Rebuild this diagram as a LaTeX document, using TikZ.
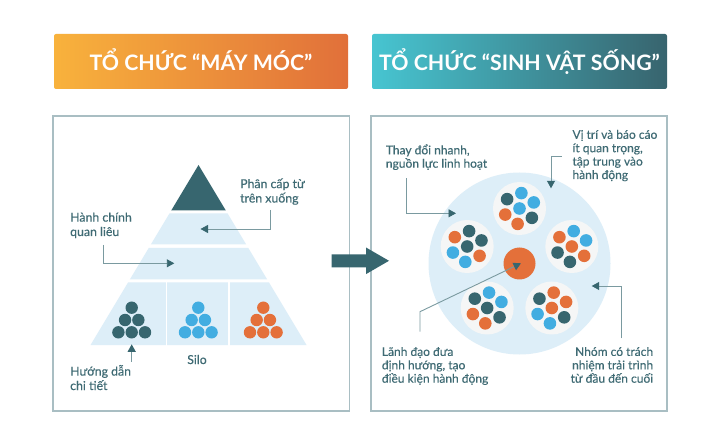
\documentclass[tikz,border=0pt]{standalone}
\usepackage{fontspec}
\setmainfont{Lato}
\usetikzlibrary{arrows.meta,calc}
\definecolor{tealdk}{HTML}{37666F}
\definecolor{dotblue}{HTML}{42ADE1}
\definecolor{dotorange}{HTML}{E4703A}
\definecolor{tierblue}{HTML}{DDEEF8}
\definecolor{clusterbg}{HTML}{F5F6F6}
\definecolor{panelline}{HTML}{A9BEC3}
\definecolor{txt}{HTML}{3F6B74}
\definecolor{connc}{HTML}{7A9AA0}
\definecolor{hdrLa}{HTML}{F8B23C}
\definecolor{hdrLb}{HTML}{E1703A}
\definecolor{hdrRa}{HTML}{47C5D1}
\definecolor{hdrRb}{HTML}{38646E}
\begin{document}
\begin{tikzpicture}[x=1pt,y=-1pt,
  lbl/.style={font=\fontsize{12}{13.4}\selectfont\addfontfeature{FakeBold=0.3}, text=txt, inner sep=0pt, align=left},
  lblL/.style={lbl, font=\fontsize{12.3}{14.4}\selectfont\addfontfeature{FakeBold=0.3}},
  lblr/.style={lbl, align=right},
  connector/.style={draw=connc, line width=0.9pt, -{Triangle[length=7.5pt,width=8pt,color=tealdk,fill=tealdk]}},
  hdrtext/.style={font=\fontsize{21.3}{24}\selectfont\bfseries, text=white, inner sep=0pt, anchor=base},
  panel/.style={draw=panelline, line width=1.2pt},
  tier/.style={fill=tierblue}
]
\useasboundingbox (0,0) rectangle (720,438);
\fill[white] (0,0) rectangle (720,438);

% headers
\shade[left color=hdrLa, right color=hdrLb, rounded corners=2pt] (54,34) rectangle (348,89);
\node[hdrtext] (hL) at (201,71) {TỔ CHỨC “MÁY MÓC”};
\shade[left color=hdrRa, right color=hdrRb, rounded corners=2pt] (372,34) rectangle (667,89);
\node[hdrtext] (hR) at (519.5,71) {TỔ CHỨC “SINH VẬT SỐNG”};

% panels
\draw[panel] (53,116) rectangle (349.3,411);
\draw[panel] (371,116) rectangle (667,411);

% pyramid
\fill[tealdk] (198.5,165) -- (225.8,210.5) -- (171.2,210.5) -- cycle;
\fill[tier] (169.4,213.5) -- (227.6,213.5) -- (246.2,244.5) -- (150.8,244.5) -- cycle;
\fill[tier] (148.7,248) -- (248.3,248) -- (267.2,279.5) -- (129.8,279.5) -- cycle;
\fill[tier] (128,282.5) -- (269,282.5) -- (306.5,345) -- (90.5,345) -- cycle;
\draw[white, line width=1.8pt] (166.5,282) -- (166.5,346);
\draw[white, line width=1.8pt] (229.2,282) -- (229.2,346);

% dot triangles
\foreach \cx/\col in {131.7/tealdk, 198.3/dotblue, 263.3/dotorange} {
  \foreach \dx/\dy in {0/307.7, -6.65/320, 6.65/320, -13.3/332.3, 0/332.3, 13.3/332.3}
    \fill[\col] (\cx+\dx,\dy) circle[radius=6.2];
}

% middle block arrow
\fill[tealdk] (331.7,254.3) -- (366,254.3) -- (366,247.5) -- (389,260.8) -- (366,274.1) -- (366,267.3) -- (331.7,267.3) -- cycle;

% right panel circles
\fill[tierblue] (519.5,263.5) circle[radius=91];
\foreach \ang/\cen/\ca/\cb/\cc/\cd/\ce/\cf in {
   90/dotblue/dotblue/dotblue/tealdk/dotorange/dotorange/tealdk,
   162/tealdk/tealdk/tealdk/dotorange/dotblue/dotblue/dotorange,
   18/dotorange/dotblue/dotblue/dotorange/tealdk/tealdk/dotorange,
   234/tealdk/dotblue/dotblue/tealdk/dotorange/dotorange/tealdk,
   306/dotorange/dotorange/dotorange/tealdk/dotblue/dotblue/tealdk} {
  \coordinate (cl) at ({519.5+55*cos(\ang)},{263.5-55*sin(\ang)});
  \fill[clusterbg] (cl) circle[radius=26.5];
  \fill[\cen] (cl) circle[radius=6.3];
  \foreach \d/\col in {23/\ca,83/\cb,143/\cc,203/\cd,263/\ce,323/\cf}
    \fill[\col] ($(cl)+({15.5*cos(\d)},{-15.5*sin(\d)})$) circle[radius=6.3];
}
\fill[dotorange] (519.5,263.5) circle[radius=16];

% left labels (base = baseline of last line)
\node[lblL, anchor=base west] (phan) at (240,202.5) {Phân cấp từ\\trên xuống};
\coordinate (phanS) at (270.5,210);
\coordinate (phanT) at (200.5,229);
\draw[connector] (phanS) |- (phanT);

\node[lblL, anchor=base west] (hanh) at (70,236) {Hành chính\\quan liêu};
\coordinate (hanhS) at (103.3,245);
\coordinate (hanhT) at (174.3,263.3);
\draw[connector] (hanhS) |- (hanhT);

\node[lblL, anchor=base west] (huong) at (70,390) {Hướng dẫn\\chi tiết};
\coordinate (huongS) at (131.7,361.7);
\coordinate (huongT) at (131.7,344.3);
\draw[connector] (huongS) -- (huongT);

\node[lblL, anchor=base] (silo) at (197,364) {Silo};

% right labels
\node[lbl, anchor=base west] (thay) at (385.7,167.7) {Thay đổi nhanh,\\nguồn lực linh hoạt};
\coordinate (thayS) at (406.7,178.3);
\coordinate (thayT) at (456,213.3);
\draw[connector] (thayS) |- (thayT);

\node[lbl, anchor=base west] (vitri) at (572.3,179) {Vị trí và báo cáo\\ít quan trọng,\\tập trung vào\\hành động};
\coordinate (vitriS) at (561.7,156.7);
\coordinate (vitriT) at (551,188.3);
\draw[connector] (vitriS) -| (vitriT);

\node[lbl, anchor=base west] (lanh) at (381.7,382.7) {Lãnh đạo đưa\\định hướng, tạo\\điều kiện hành động};
\coordinate (lanhS) at (420,331.7);
\coordinate (lanhM) at (420,311.7);
\coordinate (lanhT) at (521,263.3);
\draw[connector] (lanhS) -- (lanhM) -- (lanhT);

\node[lblr, anchor=base east] (nhom) at (653.3,382.7) {Nhóm có trách\\nhiệm trải trình\\từ đầu đến cuối};
\coordinate (nhomS) at (621,338.3);
\coordinate (nhomT) at (591.7,286);
\draw[connector] (nhomS) |- (nhomT);
\end{tikzpicture}
\end{document}
